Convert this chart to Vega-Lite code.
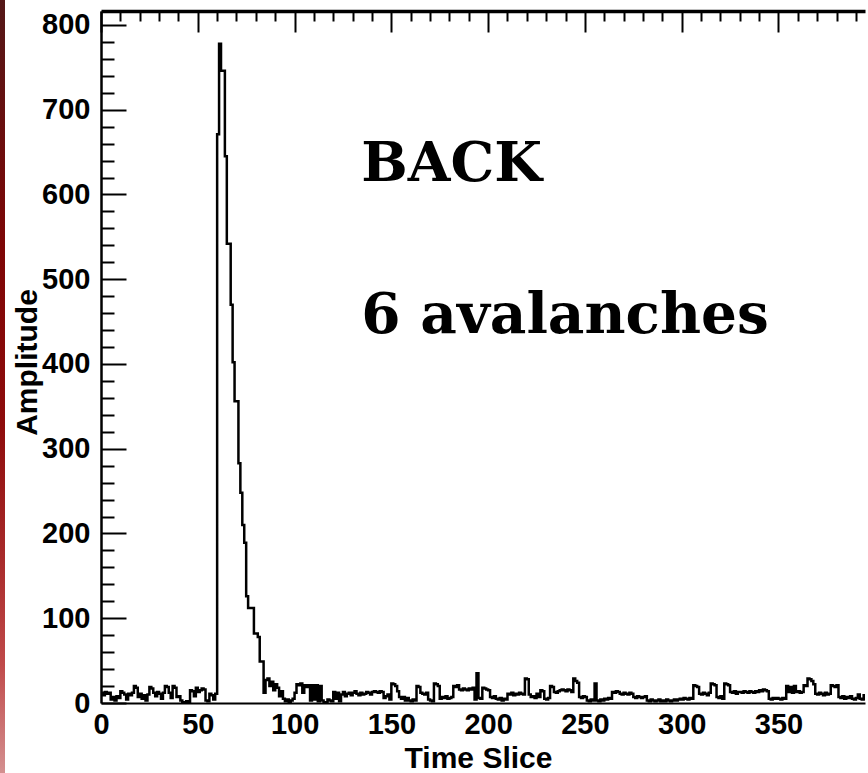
{
  "$schema": "https://vega.github.io/schema/vega-lite/v6.json",
  "padding": 0,
  "background": "white",
  "config": {"view": {"stroke": null}},
  "datasets": {
    "hist": [
      {"slice":0,"amplitude":12},{"slice":1,"amplitude":9},{"slice":2,"amplitude":13},{"slice":3,"amplitude":11},{"slice":4,"amplitude":12},{"slice":5,"amplitude":4},{"slice":6,"amplitude":7},{"slice":7,"amplitude":3},{"slice":8,"amplitude":8},{"slice":9,"amplitude":6},
      {"slice":10,"amplitude":14},{"slice":11,"amplitude":12},{"slice":12,"amplitude":10},{"slice":13,"amplitude":4},{"slice":14,"amplitude":11},{"slice":15,"amplitude":9},{"slice":16,"amplitude":12},{"slice":17,"amplitude":20},{"slice":18,"amplitude":18},{"slice":19,"amplitude":7},
      {"slice":20,"amplitude":11},{"slice":21,"amplitude":5},{"slice":22,"amplitude":9},{"slice":23,"amplitude":3},{"slice":24,"amplitude":10},{"slice":25,"amplitude":19},{"slice":26,"amplitude":17},{"slice":27,"amplitude":12},{"slice":28,"amplitude":8},{"slice":29,"amplitude":13},
      {"slice":30,"amplitude":11},{"slice":31,"amplitude":5},{"slice":32,"amplitude":12},{"slice":33,"amplitude":20},{"slice":34,"amplitude":19},{"slice":35,"amplitude":12},{"slice":36,"amplitude":6},{"slice":37,"amplitude":20},{"slice":38,"amplitude":18},{"slice":39,"amplitude":7},
      {"slice":40,"amplitude":8},{"slice":41,"amplitude":3},{"slice":42,"amplitude":1},{"slice":43,"amplitude":0},{"slice":44,"amplitude":2},{"slice":45,"amplitude":1},{"slice":46,"amplitude":15},{"slice":47,"amplitude":14},{"slice":48,"amplitude":8},{"slice":49,"amplitude":18},
      {"slice":50,"amplitude":13},{"slice":51,"amplitude":15},{"slice":52,"amplitude":17},{"slice":53,"amplitude":16},{"slice":54,"amplitude":3},{"slice":55,"amplitude":2},{"slice":56,"amplitude":11},{"slice":57,"amplitude":9},{"slice":58,"amplitude":4},{"slice":59,"amplitude":11},
      {"slice":60,"amplitude":671},{"slice":61,"amplitude":778},{"slice":62,"amplitude":746},{"slice":63,"amplitude":746},{"slice":64,"amplitude":645},{"slice":65,"amplitude":542},{"slice":66,"amplitude":542},{"slice":67,"amplitude":470},{"slice":68,"amplitude":402},{"slice":69,"amplitude":356},
      {"slice":70,"amplitude":356},{"slice":71,"amplitude":283},{"slice":72,"amplitude":248},{"slice":73,"amplitude":210},{"slice":74,"amplitude":189},{"slice":75,"amplitude":126},{"slice":76,"amplitude":112},{"slice":77,"amplitude":112},{"slice":78,"amplitude":112},{"slice":79,"amplitude":82},
      {"slice":80,"amplitude":82},{"slice":81,"amplitude":78},{"slice":82,"amplitude":49},{"slice":83,"amplitude":49},{"slice":84,"amplitude":12},{"slice":85,"amplitude":27},{"slice":86,"amplitude":29},{"slice":87,"amplitude":20},{"slice":88,"amplitude":25},{"slice":89,"amplitude":15},
      {"slice":90,"amplitude":22},{"slice":91,"amplitude":18},{"slice":92,"amplitude":8},{"slice":93,"amplitude":14},{"slice":94,"amplitude":5},{"slice":95,"amplitude":2},{"slice":96,"amplitude":4},{"slice":97,"amplitude":0},{"slice":98,"amplitude":3},{"slice":99,"amplitude":5},
      {"slice":100,"amplitude":12},{"slice":101,"amplitude":22},{"slice":102,"amplitude":21},{"slice":103,"amplitude":23},{"slice":104,"amplitude":12},{"slice":105,"amplitude":21},{"slice":106,"amplitude":19},{"slice":107,"amplitude":21},{"slice":108,"amplitude":3},{"slice":109,"amplitude":21},
      {"slice":110,"amplitude":4},{"slice":111,"amplitude":21},{"slice":112,"amplitude":2},{"slice":113,"amplitude":20},{"slice":114,"amplitude":3},{"slice":115,"amplitude":1},{"slice":116,"amplitude":0},{"slice":117,"amplitude":4},{"slice":118,"amplitude":3},{"slice":119,"amplitude":2},
      {"slice":120,"amplitude":13},{"slice":121,"amplitude":5},{"slice":122,"amplitude":12},{"slice":123,"amplitude":2},{"slice":124,"amplitude":10},{"slice":125,"amplitude":13},{"slice":126,"amplitude":8},{"slice":127,"amplitude":11},{"slice":128,"amplitude":12},{"slice":129,"amplitude":9},
      {"slice":130,"amplitude":12},{"slice":131,"amplitude":14},{"slice":132,"amplitude":11},{"slice":133,"amplitude":9},{"slice":134,"amplitude":12},{"slice":135,"amplitude":10},{"slice":136,"amplitude":11},{"slice":137,"amplitude":13},{"slice":138,"amplitude":12},{"slice":139,"amplitude":10},
      {"slice":140,"amplitude":13},{"slice":141,"amplitude":14},{"slice":142,"amplitude":13},{"slice":143,"amplitude":12},{"slice":144,"amplitude":14},{"slice":145,"amplitude":13},{"slice":146,"amplitude":6},{"slice":147,"amplitude":8},{"slice":148,"amplitude":10},{"slice":149,"amplitude":4},
      {"slice":150,"amplitude":23},{"slice":151,"amplitude":22},{"slice":152,"amplitude":20},{"slice":153,"amplitude":14},{"slice":154,"amplitude":7},{"slice":155,"amplitude":5},{"slice":156,"amplitude":7},{"slice":157,"amplitude":3},{"slice":158,"amplitude":6},{"slice":159,"amplitude":3},
      {"slice":160,"amplitude":2},{"slice":161,"amplitude":4},{"slice":162,"amplitude":3},{"slice":163,"amplitude":20},{"slice":164,"amplitude":19},{"slice":165,"amplitude":12},{"slice":166,"amplitude":11},{"slice":167,"amplitude":10},{"slice":168,"amplitude":12},{"slice":169,"amplitude":4},
      {"slice":170,"amplitude":3},{"slice":171,"amplitude":2},{"slice":172,"amplitude":23},{"slice":173,"amplitude":22},{"slice":174,"amplitude":20},{"slice":175,"amplitude":5},{"slice":176,"amplitude":7},{"slice":177,"amplitude":6},{"slice":178,"amplitude":8},{"slice":179,"amplitude":5},
      {"slice":180,"amplitude":6},{"slice":181,"amplitude":7},{"slice":182,"amplitude":20},{"slice":183,"amplitude":19},{"slice":184,"amplitude":21},{"slice":185,"amplitude":16},{"slice":186,"amplitude":15},{"slice":187,"amplitude":17},{"slice":188,"amplitude":16},{"slice":189,"amplitude":15},
      {"slice":190,"amplitude":17},{"slice":191,"amplitude":16},{"slice":192,"amplitude":18},{"slice":193,"amplitude":4},{"slice":194,"amplitude":35},{"slice":195,"amplitude":6},{"slice":196,"amplitude":5},{"slice":197,"amplitude":18},{"slice":198,"amplitude":17},{"slice":199,"amplitude":16},
      {"slice":200,"amplitude":15},{"slice":201,"amplitude":7},{"slice":202,"amplitude":6},{"slice":203,"amplitude":8},{"slice":204,"amplitude":5},{"slice":205,"amplitude":4},{"slice":206,"amplitude":6},{"slice":207,"amplitude":3},{"slice":208,"amplitude":5},{"slice":209,"amplitude":4},
      {"slice":210,"amplitude":11},{"slice":211,"amplitude":10},{"slice":212,"amplitude":12},{"slice":213,"amplitude":9},{"slice":214,"amplitude":11},{"slice":215,"amplitude":10},{"slice":216,"amplitude":12},{"slice":217,"amplitude":11},{"slice":218,"amplitude":10},{"slice":219,"amplitude":29},
      {"slice":220,"amplitude":28},{"slice":221,"amplitude":10},{"slice":222,"amplitude":7},{"slice":223,"amplitude":8},{"slice":224,"amplitude":6},{"slice":225,"amplitude":11},{"slice":226,"amplitude":7},{"slice":227,"amplitude":15},{"slice":228,"amplitude":14},{"slice":229,"amplitude":5},
      {"slice":230,"amplitude":4},{"slice":231,"amplitude":6},{"slice":232,"amplitude":20},{"slice":233,"amplitude":19},{"slice":234,"amplitude":13},{"slice":235,"amplitude":12},{"slice":236,"amplitude":14},{"slice":237,"amplitude":15},{"slice":238,"amplitude":16},{"slice":239,"amplitude":15},
      {"slice":240,"amplitude":14},{"slice":241,"amplitude":16},{"slice":242,"amplitude":15},{"slice":243,"amplitude":13},{"slice":244,"amplitude":29},{"slice":245,"amplitude":26},{"slice":246,"amplitude":24},{"slice":247,"amplitude":7},{"slice":248,"amplitude":6},{"slice":249,"amplitude":8},
      {"slice":250,"amplitude":7},{"slice":251,"amplitude":3},{"slice":252,"amplitude":2},{"slice":253,"amplitude":4},{"slice":254,"amplitude":3},{"slice":255,"amplitude":23},{"slice":256,"amplitude":3},{"slice":257,"amplitude":2},{"slice":258,"amplitude":4},{"slice":259,"amplitude":3},
      {"slice":260,"amplitude":5},{"slice":261,"amplitude":4},{"slice":262,"amplitude":6},{"slice":263,"amplitude":5},{"slice":264,"amplitude":13},{"slice":265,"amplitude":12},{"slice":266,"amplitude":14},{"slice":267,"amplitude":13},{"slice":268,"amplitude":11},{"slice":269,"amplitude":10},
      {"slice":270,"amplitude":12},{"slice":271,"amplitude":11},{"slice":272,"amplitude":10},{"slice":273,"amplitude":12},{"slice":274,"amplitude":11},{"slice":275,"amplitude":7},{"slice":276,"amplitude":6},{"slice":277,"amplitude":8},{"slice":278,"amplitude":7},{"slice":279,"amplitude":6},
      {"slice":280,"amplitude":7},{"slice":281,"amplitude":8},{"slice":282,"amplitude":3},{"slice":283,"amplitude":2},{"slice":284,"amplitude":4},{"slice":285,"amplitude":3},{"slice":286,"amplitude":2},{"slice":287,"amplitude":3},{"slice":288,"amplitude":4},{"slice":289,"amplitude":2},
      {"slice":290,"amplitude":3},{"slice":291,"amplitude":2},{"slice":292,"amplitude":4},{"slice":293,"amplitude":3},{"slice":294,"amplitude":2},{"slice":295,"amplitude":3},{"slice":296,"amplitude":4},{"slice":297,"amplitude":3},{"slice":298,"amplitude":4},{"slice":299,"amplitude":5},
      {"slice":300,"amplitude":4},{"slice":301,"amplitude":6},{"slice":302,"amplitude":5},{"slice":303,"amplitude":4},{"slice":304,"amplitude":6},{"slice":305,"amplitude":5},{"slice":306,"amplitude":21},{"slice":307,"amplitude":20},{"slice":308,"amplitude":19},{"slice":309,"amplitude":11},
      {"slice":310,"amplitude":10},{"slice":311,"amplitude":12},{"slice":312,"amplitude":11},{"slice":313,"amplitude":9},{"slice":314,"amplitude":12},{"slice":315,"amplitude":23},{"slice":316,"amplitude":22},{"slice":317,"amplitude":21},{"slice":318,"amplitude":7},{"slice":319,"amplitude":6},
      {"slice":320,"amplitude":8},{"slice":321,"amplitude":5},{"slice":322,"amplitude":23},{"slice":323,"amplitude":22},{"slice":324,"amplitude":21},{"slice":325,"amplitude":13},{"slice":326,"amplitude":12},{"slice":327,"amplitude":14},{"slice":328,"amplitude":11},{"slice":329,"amplitude":13},
      {"slice":330,"amplitude":13},{"slice":331,"amplitude":12},{"slice":332,"amplitude":14},{"slice":333,"amplitude":13},{"slice":334,"amplitude":12},{"slice":335,"amplitude":14},{"slice":336,"amplitude":13},{"slice":337,"amplitude":12},{"slice":338,"amplitude":14},{"slice":339,"amplitude":13},
      {"slice":340,"amplitude":15},{"slice":341,"amplitude":14},{"slice":342,"amplitude":16},{"slice":343,"amplitude":15},{"slice":344,"amplitude":14},{"slice":345,"amplitude":5},{"slice":346,"amplitude":4},{"slice":347,"amplitude":6},{"slice":348,"amplitude":5},{"slice":349,"amplitude":6},
      {"slice":350,"amplitude":5},{"slice":351,"amplitude":4},{"slice":352,"amplitude":6},{"slice":353,"amplitude":5},{"slice":354,"amplitude":20},{"slice":355,"amplitude":13},{"slice":356,"amplitude":19},{"slice":357,"amplitude":12},{"slice":358,"amplitude":20},{"slice":359,"amplitude":13},
      {"slice":360,"amplitude":14},{"slice":361,"amplitude":12},{"slice":362,"amplitude":13},{"slice":363,"amplitude":21},{"slice":364,"amplitude":20},{"slice":365,"amplitude":29},{"slice":366,"amplitude":28},{"slice":367,"amplitude":26},{"slice":368,"amplitude":22},{"slice":369,"amplitude":11},
      {"slice":370,"amplitude":10},{"slice":371,"amplitude":12},{"slice":372,"amplitude":11},{"slice":373,"amplitude":9},{"slice":374,"amplitude":12},{"slice":375,"amplitude":10},{"slice":376,"amplitude":11},{"slice":377,"amplitude":21},{"slice":378,"amplitude":20},{"slice":379,"amplitude":19},
      {"slice":380,"amplitude":21},{"slice":381,"amplitude":7},{"slice":382,"amplitude":6},{"slice":383,"amplitude":8},{"slice":384,"amplitude":5},{"slice":385,"amplitude":7},{"slice":386,"amplitude":6},{"slice":387,"amplitude":8},{"slice":388,"amplitude":5},{"slice":389,"amplitude":4},
      {"slice":390,"amplitude":6},{"slice":391,"amplitude":10},{"slice":392,"amplitude":5},{"slice":393,"amplitude":4},{"slice":394,"amplitude":9},{"slice":395,"amplitude":5},{"slice":396,"amplitude":6},{"slice":397,"amplitude":6}
    ]
  },
  "hconcat": [
    {
      "width": 5,
      "height": 773,
      "data": {"values": [{}]},
      "mark": {
        "type": "rect",
        "color": {
          "gradient": "linear", "x1": 0, "y1": 0, "x2": 0, "y2": 1,
          "stops": [
            {"offset": 0, "color": "#541818"},
            {"offset": 0.32, "color": "#7e0606"},
            {"offset": 0.55, "color": "#8e0c0c"},
            {"offset": 0.72, "color": "#a82a2a"},
            {"offset": 0.86, "color": "#c04a4a"},
            {"offset": 1, "color": "#d49090"}
          ]
        }
      },
      "encoding": {
        "x": {"value": 0}, "x2": {"value": "width"},
        "y": {"value": 0}, "y2": {"value": "height"}
      }
    },
    {
      "vconcat": [
        {
          "width": 764,
          "height": 11,
          "data": {"values": [{}]},
          "mark": {"type": "rect", "opacity": 0},
          "encoding": {"x": {"value": 0}, "x2": {"value": 1}, "y": {"value": 0}, "y2": {"value": 1}}
        },
        {
          "width": 764,
          "height": 692,
          "layer": [
            {
              "data": {"name": "hist"},
              "mark": {"type": "line", "interpolate": "step-after", "color": "black", "strokeWidth": 2.5, "clip": true},
              "encoding": {
                "x": {
                  "field": "slice", "type": "quantitative",
                  "scale": {"domain": [0, 394.7], "nice": false, "zero": false},
                  "axis": {
                    "orient": "bottom",
                    "values": [0, 10, 20, 30, 40, 50, 60, 70, 80, 90, 100, 110, 120, 130, 140, 150, 160, 170, 180, 190, 200, 210, 220, 230, 240, 250, 260, 270, 280, 290, 300, 310, 320, 330, 340, 350, 360, 370, 380, 390],
                    "labelExpr": "datum.value % 50 === 0 ? datum.label : ''",
                    "ticks": false,
                    "grid": true, "gridColor": "black", "gridOpacity": 1, "gridWidth": 2,
                    "gridDash": {"condition": {"test": "datum.value % 50 === 0", "value": [21, 2000]}, "value": [10, 2000]},
                    "domainColor": "black", "domainWidth": 2,
                    "labelFont": "Liberation Sans", "labelFontWeight": "bold", "labelFontSize": 29,
                    "labelColor": "black", "labelPadding": 7, "labelFlush": false, "labelOverlap": false,
                    "title": "Time Slice", "titleFont": "Liberation Sans", "titleFontWeight": "bold",
                    "titleFontSize": 30, "titleColor": "black", "titleX": 377, "titleY": 64,
                    "titleBaseline": "alphabetic", "titleAlign": "center"
                  }
                },
                "y": {
                  "field": "amplitude", "type": "quantitative",
                  "scale": {"domain": [0, 816.5], "nice": false},
                  "axis": {
                    "orient": "left",
                    "values": [0, 20, 40, 60, 80, 100, 120, 140, 160, 180, 200, 220, 240, 260, 280, 300, 320, 340, 360, 380, 400, 420, 440, 460, 480, 500, 520, 540, 560, 580, 600, 620, 640, 660, 680, 700, 720, 740, 760, 780, 800],
                    "labelExpr": "datum.value % 100 === 0 ? datum.label : ''",
                    "ticks": false,
                    "grid": true, "gridColor": "black", "gridOpacity": 1, "gridWidth": 2,
                    "gridDash": {"condition": {"test": "datum.value % 100 === 0", "value": [25, 2000]}, "value": [13, 2000]},
                    "domainColor": "black", "domainWidth": 2.5,
                    "labelFont": "Liberation Sans", "labelFontWeight": "bold", "labelFontSize": 29,
                    "labelColor": "black", "labelPadding": 11, "labelFlush": false, "labelOverlap": false,
                    "title": "Amplitude", "titleFont": "Liberation Sans", "titleFontWeight": "bold",
                    "titleFontSize": 30, "titleColor": "black", "titleX": -65, "titleY": 351,
                    "titleBaseline": "alphabetic", "titleAngle": -90, "titleAlign": "center"
                  }
                }
              }
            },
            {
              "data": {"name": "hist"},
              "mark": {"type": "line", "opacity": 0},
              "encoding": {
                "x": {
                  "field": "slice", "type": "quantitative",
                  "axis": {
                    "orient": "top", "labels": false, "ticks": false, "grid": false, "title": null,
                    "domain": true, "domainColor": "black", "domainWidth": 3.5
                  }
                },
                "y": {"field": "amplitude", "type": "quantitative", "axis": null}
              }
            },
            {
              "data": {"values": [{"label": "BACK"}]},
              "mark": {"type": "text", "align": "left", "baseline": "alphabetic", "font": "DejaVu Serif", "fontWeight": "bold", "fontSize": 55, "color": "black"},
              "encoding": {
                "x": {"datum": 134.5, "type": "quantitative", "axis": null},
                "y": {"datum": 616, "type": "quantitative", "axis": null},
                "text": {"field": "label"}
              }
            },
            {
              "data": {"values": [{"label": "6 avalanches"}]},
              "mark": {"type": "text", "align": "left", "baseline": "alphabetic", "font": "DejaVu Serif", "fontWeight": "bold", "fontSize": 56.5, "color": "black"},
              "encoding": {
                "x": {"datum": 134.5, "type": "quantitative", "axis": null},
                "y": {"datum": 436.6, "type": "quantitative", "axis": null},
                "text": {"field": "label"}
              }
            }
          ],
          "resolve": {"axis": {"x": "independent", "y": "independent"}}
        }
      ],
      "spacing": 0,
      "bounds": "flush"
    }
  ],
  "spacing": 96,
  "bounds": "flush"
}
